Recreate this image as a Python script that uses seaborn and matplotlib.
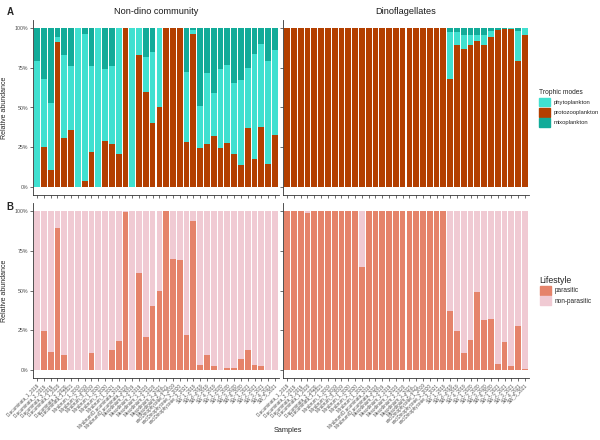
import numpy as np
import pandas as pd
import matplotlib
matplotlib.use("Agg")
import matplotlib.pyplot as plt
from matplotlib.patches import Patch
import seaborn as sns

samples = [
    "D.acuminata_1_2019", "D.acuminata_2_2019", "D.acuminata_3_2019",
    "D.acuminata_1_2020", "D.acuminata_2_2020", "D.acuminata_1_2021",
    "M.rubrum_1_2019", "M.rubrum_2_2019", "M.rubrum_3_2019",
    "M.rubrum_1_2020", "M.rubrum_2_2020", "M.rubrum_1_2021",
    "M.rubrum/D.acuminata_2019", "M.rubrum/D.acuminata_2020",
    "Mesodinium_1_2019", "Mesodinium_2_2019", "Mesodinium_1_2020",
    "Mesodinium_2_2020", "Mesodinium_1_2021", "Mesodinium_2_2021",
    "unclDinophyceae_1_2019", "unclDinophyceae_2_2020",
    "unclDinophyceae_3_2021", "SW_1_2019",
    "SW_2_2019", "SW_3_2019", "SW_4_2019", "SW_1_2020", "SW_2_2020",
    "SW_3_2020", "SW_4_2020", "SW_1_2021", "SW_2_2021", "SW_3_2021",
    "SW_4_2021", "SW_5_2021",
]

# Panel A: trophic modes (%), non-dino community
nondino_protozoo = [0, 25, 11, 91, 31, 36, 0, 4, 22, 0, 29, 27, 21, 100, 0, 83, 60, 40,
                    50, 100, 100, 100, 28, 96, 24.5, 27, 32, 24.5, 27.5, 21, 13.6, 37,
                    17.6, 37.7, 14.5, 33]
nondino_phyto = [79, 43, 42, 3, 52, 40, 100, 92, 54, 100, 45, 49, 79, 0, 100, 17, 22, 45,
                 50, 0, 0, 0, 44, 3, 26.5, 44.5, 27, 49.5, 49.5, 44.5, 53.4, 38,
                 65.9, 52, 64.5, 53]
nondino_mixo = [21, 32, 47, 6, 17, 24, 0, 4, 24, 0, 26, 24, 0, 0, 0, 0, 18, 15,
                0, 0, 0, 0, 28, 1, 49, 28.5, 41, 26, 23, 34.5, 33, 25,
                16.5, 10.3, 21, 14]

# Panel A: trophic modes (%), dinoflagellates
dino_protozoo = [100] * 24 + [68, 89, 86.6, 89.5, 92, 89.5, 94, 98.5, 99.2, 99.6, 79, 95.6]
dino_phyto = [0] * 24 + [29.5, 8.5, 9.2, 6.3, 3.8, 6.3, 3.9, 0.5, 0.3, 0.2, 18.9, 4.4]
dino_mixo = [0] * 24 + [2.5, 2.5, 4.2, 4.2, 4.2, 4.2, 2.1, 1.0, 0.5, 0.2, 2.1, 0]

# Panel B: lifestyle (% parasitic)
nondino_parasitic = [0, 24.7, 11.3, 89.5, 9.2, 0, 0, 0, 10.9, 0, 0, 12.3, 18.2, 99.2, 0,
                     60.9, 20.9, 40, 50, 100, 69.9, 69, 22, 93.5, 3, 9.6, 2.5, 0, 1.5,
                     1.2, 6.9, 12.5, 3.3, 2.7, 0, 0]
dino_parasitic = [100, 100, 100, 99, 100, 100, 100, 100, 100, 100, 100, 65,
                  100, 100, 100, 100, 100, 100, 100, 100, 100, 100, 100, 100,
                  37, 24.3, 10.5, 19.2, 49, 31.4, 31.8, 3.6, 17.8, 2.5, 27.4, 0.6]

facets = ["Non-dino community", "Dinoflagellates"]
trophic_labels = ["phytoplankton", "protozooplankton", "mixoplankton"]
life_labels = ["parasitic", "non-parasitic"]
yticks = [0, 25, 50, 75, 100]
ytick_labels = ["0%", "25%", "50%", "75%", "100%"]

c_phyto = "#40E0D0"
c_proto = "#B33F00"
c_mixo = "#12AB99"
c_par = "#E5836A"
c_nonpar = "#F0CAD3"

sns.set_theme(style="ticks")
plt.rcParams["font.family"] = ["Liberation Sans", "DejaVu Sans"]

fig = plt.figure(figsize=(6, 4.4), dpi=100)
W, H = 600, 440

def axes_px(x0, x1, y0, y1):
    return fig.add_axes([x0 / W, 1 - y1 / H, (x1 - x0) / W, (y1 - y0) / H])

axA1 = axes_px(33, 279, 20, 195)
axA2 = axes_px(283, 529, 20, 195)
axB1 = axes_px(33, 279, 203, 378)
axB2 = axes_px(283, 529, 203, 378)

def stacked(ax, layers):
    # layers: list of (bottom-up values, color); draw cumulative from top down
    cum = np.cumsum([np.array(v, float) for v, _ in layers], axis=0)
    for i in range(len(layers) - 1, -1, -1):
        df = pd.DataFrame({"sample": samples, "val": cum[i]})
        sns.barplot(data=df, x="sample", y="val", color=layers[i][1], ax=ax,
                    width=0.85, linewidth=0, saturation=1, order=samples)

stacked(axA1, [(nondino_protozoo, c_proto), (nondino_phyto, c_phyto), (nondino_mixo, c_mixo)])
stacked(axA2, [(dino_protozoo, c_proto), (dino_phyto, c_phyto), (dino_mixo, c_mixo)])
stacked(axB1, [(nondino_parasitic, c_par), (list(100 - np.array(nondino_parasitic)), c_nonpar)])
stacked(axB2, [(dino_parasitic, c_par), (list(100 - np.array(dino_parasitic)), c_nonpar)])

for ax in [axA1, axA2, axB1, axB2]:
    ax.set_xlim(-0.6, len(samples) - 0.4)
    ax.set_ylim(-5, 105)
    ax.set_yticks(yticks)
    ax.set_xlabel("")
    ax.set_ylabel("")
    for s in ["top", "right"]:
        ax.spines[s].set_visible(False)
    for s in ["left", "bottom"]:
        ax.spines[s].set_color("#333333")
        ax.spines[s].set_linewidth(0.6)
    ax.tick_params(axis="both", length=2, width=0.5, color="#333333",
                   labelsize=3.8, labelcolor="#4D4D4D", pad=1.5)

for ax in [axA1, axB1]:
    ax.set_yticklabels(ytick_labels)
for ax in [axA2, axB2]:
    ax.set_yticklabels([])
for ax in [axA1, axA2]:
    ax.set_xticks(range(len(samples)))
    ax.set_xticklabels([])
for ax in [axB1, axB2]:
    ax.set_xticks(range(len(samples)))
    ax.set_xticklabels(samples, rotation=45, ha="right", rotation_mode="anchor",
                       fontsize=3.3, color="#4D4D4D")

axA1.set_title(facets[0], fontsize=6.6, pad=4, color="#1A1A1A")
axA2.set_title(facets[1], fontsize=6.6, pad=4, color="#1A1A1A")
axA1.set_ylabel("Relative abundance", fontsize=5, labelpad=5)
axB1.set_ylabel("Relative abundance", fontsize=5, labelpad=5)

fig.text(10 / W, 1 - 12 / H, "A", fontsize=7, fontweight="bold", ha="center", va="center")
fig.text(10 / W, 1 - 207 / H, "B", fontsize=7, fontweight="bold", ha="center", va="center")
fig.text(288 / W, 1 - 430 / H, "Samples", fontsize=5.3, ha="center", va="center")

legA = fig.legend(handles=[Patch(color=c_phyto), Patch(color=c_proto), Patch(color=c_mixo)],
                  labels=trophic_labels, title="Trophic modes", loc="upper left",
                  bbox_to_anchor=(537 / W, 1 - 87 / H), frameon=False, fontsize=4.2,
                  title_fontsize=4.8, handlelength=1.9, handleheight=1.9,
                  labelspacing=0.25, handletextpad=0.6, borderaxespad=0)
legA._legend_box.align = "left"
legB = fig.legend(handles=[Patch(color=c_par), Patch(color=c_nonpar)],
                  labels=life_labels, title="Lifestyle", loc="upper left",
                  bbox_to_anchor=(537 / W, 1 - 273 / H), frameon=False, fontsize=4.7,
                  title_fontsize=6.3, handlelength=1.7, handleheight=1.7,
                  labelspacing=0.2, handletextpad=0.6, borderaxespad=0)
legB._legend_box.align = "left"

fig.savefig("out.png", dpi=100)
